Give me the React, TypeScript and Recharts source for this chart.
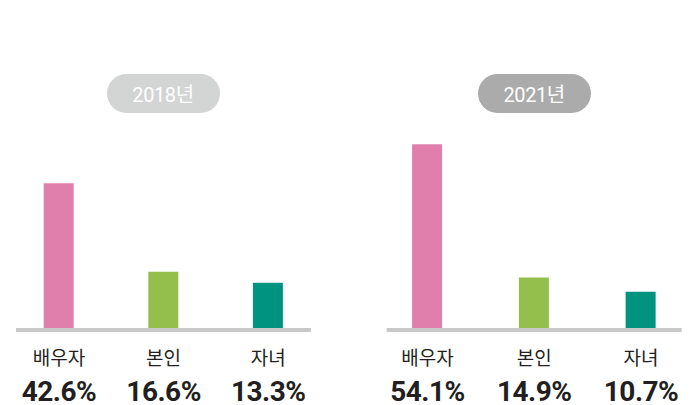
import React from "react";
import { BarChart, Bar, XAxis, YAxis, Cell, ReferenceLine } from "recharts";

const categories = ["배우자", "본인", "자녀"];
const values2018 = [42.6, 16.6, 13.3];
const values2021 = [54.1, 14.9, 10.7];
const years = ["2018년", "2021년"];
const barColors = ["#e07fab", "#95bf4c", "#009480"];

const FONT = "Roboto, 'Noto Sans CJK KR', sans-serif";
const TEXT = "#231f20";

const Tick = (props: any) => {
  const { x, y, payload, values } = props;
  const v = values[payload.index];
  return (
    <g>
      <text x={x} y={y + 29} textAnchor="middle" fontSize={19} fill={TEXT} fontFamily={FONT}>
        {payload.value}
      </text>
      <text x={x} y={y + 65} textAnchor="middle" fontSize={28} fontWeight={700} fill={TEXT} fontFamily={FONT} letterSpacing={-0.5}>
        {v.toFixed(1)}%
      </text>
    </g>
  );
};

function Panel({ values, year, badge, left, right, inset }: any) {
  const data = categories.map((c, i) => ({ name: c, value: values[i] }));
  const BaseLine = (p: any) => (
    <line x1={p.x1 + inset[0]} x2={p.x2 - inset[1]} y1={p.y1 + 2} y2={p.y2 + 2} stroke="#c8c8c8" strokeWidth={4} />
  );
  return (
    <div style={{ position: "relative", width: 350, height: 405 }}>
      <div
        style={{
          position: "absolute", top: 74, left: badge - 56.5, width: 113, height: 39, borderRadius: 19.5,
          background: year === "2018년" ? "#d3d4d4" : "#ababab", color: "#fff", fontFamily: FONT, fontSize: 20,
          display: "flex", alignItems: "center", justifyContent: "center", letterSpacing: -0.4,
        }}
      >
        {year}
      </div>
      <BarChart width={350} height={405} data={data} margin={{ top: 124.3, bottom: 0, left, right }}>
        <XAxis dataKey="name" axisLine={false} tickLine={false} height={77} interval={0} tick={<Tick values={values} />} />
        <YAxis hide domain={[0, 60]} />
        <ReferenceLine y={0} shape={<BaseLine />} />
        <Bar dataKey="value" barSize={30} isAnimationActive={false}>
          {data.map((d, i) => (
            <Cell key={d.name} fill={barColors[i]} />
          ))}
        </Bar>
      </BarChart>
    </div>
  );
}

export default function App() {
  return (
    <div style={{ position: "absolute", left: 0, top: 0, width: 700, height: 405, background: "#fff", display: "flex", overflow: "hidden" }}>
      <Panel values={values2018} year={years[0]} badge={163} left={6.7} right={29.5} inset={[9.3, 9.5]} />
      <Panel values={values2021} year={years[1]} badge={184.2} left={24.1} right={5.6} inset={[12.6, 12.7]} />
    </div>
  );
}
